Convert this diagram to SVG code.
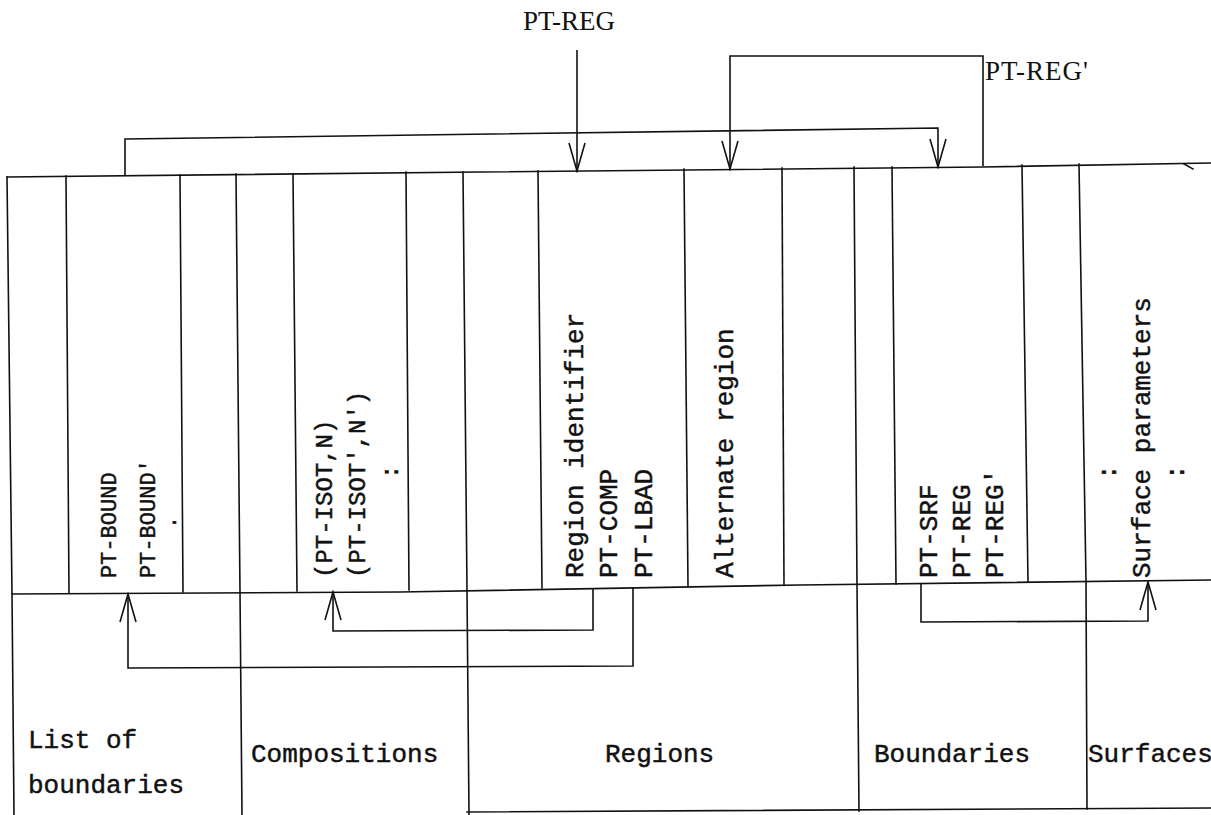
<svg xmlns="http://www.w3.org/2000/svg" width="1211" height="815" viewBox="0 0 1211 815">
<style>
  .ln{fill:none;stroke:#111;stroke-width:1.6;stroke-linecap:square}
  .cn{fill:none;stroke:#111;stroke-width:1.6}
  .mono{font-family:"Liberation Mono","DejaVu Sans Mono",monospace;fill:#111;stroke:#111;stroke-width:0.45}
  .s22{font-size:22px}.s24{font-size:24px}.s26{font-size:26px}
  .serif{font-family:"Liberation Serif","Times New Roman",serif;font-size:27px;fill:#111}
</style>
<defs>
  <marker id="ah" markerUnits="userSpaceOnUse" viewBox="-30 -10 32 20" markerWidth="32" markerHeight="20" refX="0" refY="0" orient="auto">
    <path d="M-28,-8 L0,0 L-28,8" fill="none" stroke="#111" stroke-width="1.6"/>
  </marker>
</defs>
<rect width="1211" height="815" fill="#fff"/>

<g id="frame">
  <polyline class="ln" points="7,177 480,172 983,167 1211,163"/>
  <path class="ln" d="M1184,164 L1193,169"/>
  <polyline class="ln" points="12,594 400,592 800,585 1211,580"/>
  <polyline class="ln" points="7,177 12,594 14,815"/>
  <polyline class="ln" points="236,174 240,592 242,815"/>
  <polyline class="ln" points="463,172 467,590 469,815"/>
  <polyline class="ln" points="854,167 857,585 859,811"/>
  <polyline class="ln" points="1079,164 1086,581 1087,809"/>
  <line class="ln" x1="66" y1="176" x2="69" y2="593"/>
  <line class="ln" x1="180" y1="175" x2="183" y2="592"/>
  <line class="ln" x1="293" y1="174" x2="297" y2="591"/>
  <line class="ln" x1="406" y1="172" x2="409" y2="590"/>
  <line class="ln" x1="538" y1="171" x2="542" y2="588"/>
  <line class="ln" x1="684" y1="169" x2="688" y2="586"/>
  <line class="ln" x1="782" y1="168" x2="784" y2="585"/>
  <line class="ln" x1="892" y1="167" x2="896" y2="584"/>
  <line class="ln" x1="1022" y1="165" x2="1028" y2="582"/>
  <line class="ln" x1="467" y1="812" x2="1211" y2="808"/>
</g>

<g id="connectors">
  <path class="cn" d="M577,50 L577,171" marker-end="url(#ah)"/>
  <path class="cn" d="M983,166 L983,56 L730,56 L730,169" marker-end="url(#ah)"/>
  <path class="cn" d="M125,176 L125,139 L938,128 L938,167" marker-end="url(#ah)"/>
  <path class="cn" d="M633,588 L633,666 L128,668 L128,594" marker-end="url(#ah)"/>
  <path class="cn" d="M593,589 L593,630 L333,631 L333,592" marker-end="url(#ah)"/>
  <path class="cn" d="M921,584 L921,622 L1148,621 L1148,582" marker-end="url(#ah)"/>
</g>

<g id="label-pt-reg"><text class="serif" x="523" y="30">PT-REG</text></g>
<g id="label-pt-reg-prime"><text class="serif" x="985" y="80" letter-spacing="1">PT-REG'</text></g>

<g id="list-entries">
  <text class="mono s22" transform="translate(116,578) rotate(-90)">PT-BOUND</text>
  <text class="mono s22" transform="translate(155,578) rotate(-90)">PT-BOUND'</text>
  <text class="mono s22" transform="translate(176,529) rotate(-90)">.</text>
</g>
<g id="composition-entries">
  <text class="mono s24" transform="translate(332,578) rotate(-90)">(PT-ISOT,N)</text>
  <text class="mono s24" transform="translate(365,578) rotate(-90)">(PT-ISOT',N')</text>
  <text class="mono s24" transform="translate(398,479) rotate(-90)">:</text>
</g>
<g id="region-entry">
  <text class="mono s26" transform="translate(583,578) rotate(-90)">Region identifier</text>
  <text class="mono s26" transform="translate(617,578) rotate(-90)">PT-COMP</text>
  <text class="mono s26" transform="translate(652,578) rotate(-90)">PT-LBAD</text>
</g>
<g id="alternate-region">
  <text class="mono s26" transform="translate(733,578) rotate(-90)">Alternate region</text>
</g>
<g id="boundary-entry">
  <text class="mono s26" transform="translate(937,578) rotate(-90)">PT-SRF</text>
  <text class="mono s26" transform="translate(970,578) rotate(-90)">PT-REG</text>
  <text class="mono s26" transform="translate(1003,578) rotate(-90)">PT-REG'</text>
</g>
<g id="surface-entry">
  <text class="mono s26" transform="translate(1116,480) rotate(-90)">:</text>
  <text class="mono s26" transform="translate(1150,578) rotate(-90)">Surface parameters</text>
  <text class="mono s26" transform="translate(1184,480) rotate(-90)">:</text>
</g>

<g id="box-list-of-boundaries">
  <text class="mono s26" x="28" y="748">List of</text>
  <text class="mono s26" x="28" y="793">boundaries</text>
</g>
<g id="box-compositions"><text class="mono s26" x="251" y="762">Compositions</text></g>
<g id="box-regions"><text class="mono s26" x="605" y="762">Regions</text></g>
<g id="box-boundaries"><text class="mono s26" x="874" y="762">Boundaries</text></g>
<g id="box-surfaces"><text class="mono s26" x="1088" y="762">Surfaces</text></g>
</svg>
